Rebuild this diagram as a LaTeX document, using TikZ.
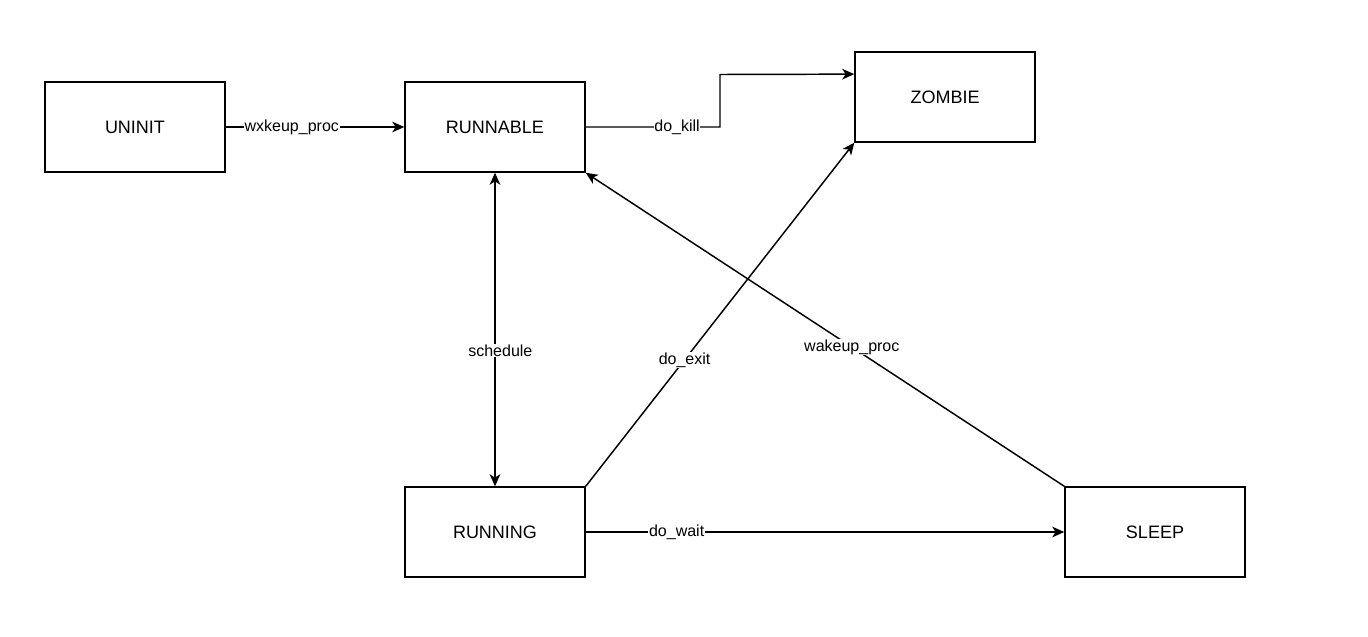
\documentclass[tikz,border=0pt]{standalone}
\usepackage{fontspec}
\setmainfont{Liberation Sans}
\usetikzlibrary{arrows.meta,calc}
\begin{document}
\begin{tikzpicture}[x=0.75pt,y=-0.75pt,
  state/.style={draw,line width=1.1pt,minimum width=135pt,minimum height=67.5pt,inner sep=0pt,font=\fontsize{13.5}{16}\selectfont},
  tip/.tip={Stealth[length=9pt,width=8pt,inset=2.5pt]},
  conn/.style={line width=1.1pt,-tip},
  lbl/.style={fill=white,inner sep=0.5pt,font=\fontsize{12}{14}\selectfont}]
\useasboundingbox (0,0) rectangle (1368,636);
\node[state] (uninit) at (135,127) {UNINIT};
\node[state] (runnable) at (495,127) {RUNNABLE};
\node[state] (zombie) at (945,97) {ZOMBIE};
\node[state] (running) at (495,532) {RUNNING};
\node[state] (sleep) at (1155,532) {SLEEP};
\coordinate (zin) at ($(zombie.north west)!0.25!(zombie.south west)$);
\coordinate (k1) at (720,127);
\coordinate (k2) at (720,74.5);
\draw[conn] (uninit.east) -- node[lbl,pos=0.37]{wxkeup\_proc} (runnable.west);
\draw[conn] (runnable.east) -- node[lbl,pos=0.68]{do\_kill} (k1) -- (k2) -- (zin);
\draw[conn,tip-tip] (runnable.south) -- node[lbl,pos=0.568,xshift=4pt]{schedule} (running.north);
\draw[conn] (running.north east) -- node[lbl,pos=0.368]{do\_exit} (zombie.south west);
\draw[conn] (sleep.north west) -- node[lbl,pos=0.444]{wakeup\_proc} (runnable.south east);
\draw[conn] (running.east) -- node[lbl,pos=0.19]{do\_wait} (sleep.west);
\end{tikzpicture}
\end{document}
